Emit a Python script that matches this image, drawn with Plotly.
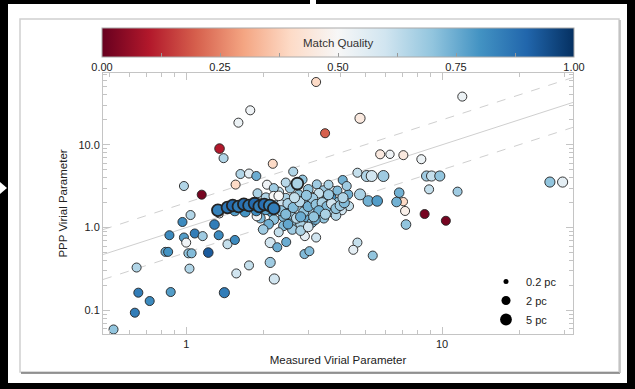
import plotly.graph_objects as go
import numpy as np

# ---------------- data ----------------
# measured virial parameter, PPP virial parameter, match quality, size (pc)
meas_alpha = [
    3.22, 1.78, 1.60, 3.49, 1.35, 1.40, 2.18, 2.62, 1.63, 1.76, 1.88, 0.98, 1.56, 1.15, 2.07,
    1.35, 1.70, 3.22, 3.10, 3.76, 1.04, 0.967, 1.29, 0.86, 0.98, 1.08, 1.16, 1.00, 1.34, 1.45,
    1.55, 0.83, 0.85, 1.02, 1.05, 1.22, 0.64, 0.65, 0.63, 0.72, 0.52, 0.87, 1.03, 1.41, 1.57,
    1.76, 2.13, 2.21, 2.13, 2.27, 2.46, 2.90, 3.03, 2.91, 3.22, 12.0, 4.78, 5.73, 6.26, 7.06,
    8.30, 26.4, 29.6, 8.70, 9.10, 9.80, 8.90, 11.5, 8.55, 10.35, 7.17, 7.23, 7.06, 6.80, 6.64,
    5.08, 5.31, 5.90, 4.67, 5.15, 5.58, 4.78, 4.30, 4.33, 4.09, 4.24, 4.06, 3.24, 3.45, 3.70,
    4.67, 4.50, 5.36,
    1.95, 2.05, 2.15, 2.25, 2.30, 2.40, 2.45, 2.50, 2.55, 2.60, 2.65, 2.70, 2.75, 2.80, 2.85,
    2.90, 2.95, 3.00, 3.05, 3.10, 3.15, 3.25, 3.30, 3.35, 3.45, 3.50, 3.60, 3.75, 3.85, 3.95,
    2.35, 2.55, 2.75, 2.95, 3.20, 2.20, 2.40, 2.60, 2.80, 3.00, 2.70, 2.50, 2.10, 1.95, 2.00,
    2.30, 1.90, 2.20, 2.45, 2.85, 3.60, 3.90, 1.89, 2.20, 2.30,
    2.35, 2.50, 2.62, 2.78, 2.88, 3.00, 3.12, 3.22, 3.40, 3.55, 3.70, 3.85, 4.00, 4.15, 3.30,
    2.65, 2.95, 3.60, 4.10, 2.45, 2.80, 3.15, 3.50, 2.20, 2.05,
    1.55, 1.70, 1.88,
    2.72, 1.33, 1.45, 1.52, 1.60, 1.68, 1.76, 1.85, 1.93, 2.02, 2.12, 2.20,
]
ppp_alpha = [
    57.3, 26.1, 18.5, 13.8, 9.0, 6.9, 5.9, 4.75, 4.44, 4.5, 4.2, 3.18, 3.31, 2.5, 3.3,
    1.45, 1.81, 1.82, 2.43, 2.77, 1.42, 1.17, 1.09, 0.81, 0.76, 0.85, 0.79, 0.66, 0.81, 0.63,
    0.71, 0.51, 0.51, 0.49, 0.49, 0.50, 0.33, 0.164, 0.094, 0.13, 0.059, 0.167, 0.32, 0.164, 0.28,
    0.35, 0.38, 0.24, 0.66, 0.58, 0.67, 0.48, 0.52, 0.79, 0.76, 38.2, 20.9, 7.68, 7.68, 7.5,
    6.7, 3.55, 3.55, 4.2, 4.2, 4.2, 2.9, 2.72, 1.46, 1.21, 1.59, 1.09, 2.06, 2.64, 2.04,
    4.2, 4.2, 4.2, 4.6, 2.1, 2.1, 2.52, 2.52, 1.82, 3.76, 3.18, 1.62, 3.33, 2.77, 2.3,
    0.66, 0.54, 0.46,
    1.95, 2.30, 1.55, 2.05, 2.70, 1.35, 2.25, 1.70, 3.00, 1.20, 2.00, 1.50, 2.50, 1.10, 1.80,
    2.20, 1.35, 2.90, 1.60, 1.15, 2.00, 1.45, 2.60, 1.75, 1.30, 2.10, 1.55, 1.85, 1.40, 2.05,
    1.90, 1.45, 1.65, 1.95, 1.25, 1.25, 1.05, 0.95, 0.92, 1.02, 1.30, 1.10, 1.10, 1.30, 0.95,
    0.88, 2.60, 3.00, 3.50, 3.80, 3.30, 2.80, 1.38, 2.40, 2.42,
    1.60, 1.95, 1.75, 2.05, 1.55, 1.80, 2.25, 1.90, 2.00, 1.80, 1.95, 1.70, 1.85, 2.00, 1.60,
    2.30, 2.45, 2.50, 2.30, 1.45, 1.35, 1.35, 1.45, 1.80, 1.65,
    1.60, 1.55, 1.60,
    3.40, 1.62, 1.75, 1.85, 1.80, 1.92, 1.85, 1.95, 1.80, 1.90, 1.85, 1.70,
]
match_quality = [
    0.40, 0.52, 0.53, 0.20, 0.10, 0.65, 0.40, 0.65, 0.65, 0.55, 0.75, 0.65, 0.40, 0.02, 0.52,
    0.48, 0.00, 0.00, 0.42, 0.55, 0.65, 0.82, 0.85, 0.82, 0.78, 0.85, 0.68, 0.52, 0.82, 0.62,
    0.82, 0.75, 0.80, 0.70, 0.72, 0.92, 0.65, 0.85, 0.85, 0.82, 0.70, 0.78, 0.65, 0.85, 0.60,
    0.62, 0.68, 0.60, 0.60, 0.75, 0.75, 0.72, 0.72, 0.55, 0.60, 0.53, 0.45, 0.45, 0.52, 0.45,
    0.53, 0.70, 0.55, 0.68, 0.62, 0.70, 0.62, 0.68, 0.02, 0.02, 0.47, 0.70, 0.40, 0.74, 0.74,
    0.65, 0.60, 0.68, 0.62, 0.74, 0.78, 0.66, 0.74, 0.62, 0.74, 0.68, 0.60, 0.68, 0.68, 0.80,
    0.62, 0.55, 0.70,
    0.72, 0.65, 0.78, 0.70, 0.62, 0.72, 0.66, 0.76, 0.68, 0.70, 0.63, 0.74, 0.70, 0.66, 0.68,
    0.60, 0.75, 0.70, 0.65, 0.72, 0.70, 0.78, 0.62, 0.68, 0.70, 0.74, 0.66, 0.72, 0.65, 0.70,
    0.60, 0.68, 0.58, 0.72, 0.74, 0.70, 0.72, 0.68, 0.66, 0.60, 0.64, 0.76, 0.74, 0.72, 0.68,
    0.62, 0.66, 0.68, 0.64, 0.70, 0.66, 0.72, 0.52, 0.50, 0.50,
    0.70, 0.66, 0.72, 0.64, 0.70, 0.74, 0.68, 0.70, 0.66, 0.72, 0.60, 0.70, 0.68, 0.72, 0.74,
    0.62, 0.70, 0.68, 0.65, 0.72, 0.75, 0.70, 0.66, 0.78, 0.76,
    0.78, 0.80, 0.82,
    0.66, 0.84, 0.87, 0.89, 0.85, 0.88, 0.86, 0.89, 0.85, 0.88, 0.83, 0.85,
]
size_pc = [
    2, 2, 2, 2, 2.5, 2, 2, 2, 2, 2, 2, 2, 2, 2, 2,
    1, 1, 2, 1, 2, 2, 2, 2.5, 2, 2, 2, 2, 2, 2, 2,
    2, 2, 2, 2, 2, 2.5, 2, 2, 2, 2, 2, 2, 2, 3, 2,
    2, 3, 3, 3, 2, 2, 2, 2, 2, 2, 2, 3, 2, 1.5, 2,
    2, 3, 3, 3, 3, 3, 2, 2, 2, 2, 2, 2.5, 1.5, 2.5, 2.5,
    4, 4, 4, 2, 3.5, 3.5, 4, 2, 2, 2, 2, 2, 2, 3.5, 2,
    2, 2, 2,
    2.5, 2.5, 2.5, 3, 2.5, 2.5, 3, 3, 2.5, 2.5, 3, 3, 2.5, 2.5, 3,
    2.5, 3, 2.5, 3, 2.5, 3, 2.5, 2.5, 3, 2.5, 2.5, 3, 2.5, 2.5, 2.5,
    2.5, 2.5, 2.5, 2.5, 2.5, 2.5, 2.5, 2.5, 2.5, 2.5, 3, 2.5, 2.5, 2.5, 2.5,
    2, 2, 2, 2, 2, 2, 2, 2.5, 2.5, 2.5,
    3, 3, 3, 3, 3, 3, 3, 3, 3, 3, 3, 3, 3, 3, 3,
    3, 3, 3, 3, 3, 3, 3, 3, 3, 3,
    3, 3, 3,
    5, 5, 5, 5, 5, 5, 5, 5, 5, 5, 5, 5,
]
legend_sizes_pc = [0.2, 2, 5]
legend_labels = ["0.2 pc", "2 pc", "5 pc"]
ratio_lines = [0.5, 1.0, 2.0]
x_range = [0.473, 32.5]
y_range = [0.052, 73.6]
x_tickvals, x_ticktext = [1, 10], ["1", "10"]
y_tickvals, y_ticktext = [0.1, 1, 10], ["0.1", "1.0", "10.0"]
cbar_tickvals = [0, 0.125, 0.25, 0.375, 0.5, 0.625, 0.75, 0.875, 1.0]
cbar_ticktext = ["0.00", "", "0.25", "", "0.50", "", "0.75", "", "1.00"]

RDBU = ['rgb(103,0,31)', 'rgb(178,24,43)', 'rgb(214,96,77)', 'rgb(244,165,130)',
        'rgb(253,219,199)', 'rgb(247,247,247)', 'rgb(209,229,240)', 'rgb(146,197,222)',
        'rgb(67,147,195)', 'rgb(33,102,172)', 'rgb(5,48,97)']

def diam(pc):
    return 1.5 + 6.0 * np.cbrt(np.asarray(pc, dtype=float))

W, H = 635, 389
ML, MR, MT, MB = 103, 62, 73, 55
PW, PH = W - ML - MR, H - MT - MB

def xp(px):
    return (px - ML) / PW

def yp(py):
    return (H - MB - py) / PH

FONT = "Liberation Sans, Arial, Helvetica, sans-serif"

fig = go.Figure()

# reference ratio lines
xl = np.array(x_range)
for r in ratio_lines:
    fig.add_trace(go.Scatter(
        x=xl, y=r * xl, mode="lines", showlegend=False, hoverinfo="skip",
        line=dict(color="#cfcfcf", width=1, dash="solid" if r == 1.0 else "dash")))

sz = np.asarray(size_pc, dtype=float)
fig.add_trace(go.Scatter(
    x=meas_alpha, y=ppp_alpha, mode="markers", showlegend=False,
    marker=dict(
        size=diam(sz), color=match_quality, colorscale=RDBU, cmin=0, cmax=1,
        line=dict(color="#222222", width=np.where(sz >= 5, 1.8, 0.9)),
        opacity=1,
        showscale=True,
        colorbar=dict(
            orientation="h", x=0.5, xanchor="center", y=yp(27.5), yanchor="top",
            len=472, lenmode="pixels", thickness=29, thicknessmode="pixels",
            outlinewidth=1, outlinecolor="#aaaaaa", xpad=0, ypad=0,
            tickmode="array", tickvals=cbar_tickvals, ticktext=cbar_ticktext,
            ticks="inside", ticklen=4, tickcolor="#999999",
            tickfont=dict(family=FONT, size=11, color="#222"),
        ),
    ),
))

# size legend
for s, lab in zip(legend_sizes_pc, legend_labels):
    fig.add_trace(go.Scatter(
        x=[None], y=[None], mode="markers", name=lab,
        marker=dict(size=float(diam(s)), color="black", line=dict(width=0))))

axis_common = dict(
    type="log", showgrid=False, zeroline=False, showline=True, linecolor="#c4c4c4",
    linewidth=1, mirror="ticks", ticks="inside", ticklen=7, tickcolor="#c4c4c4",
    tickfont=dict(family=FONT, size=11, color="#222"),
)
minor_x = [0.5, 0.6, 0.7, 0.8, 0.9, 2, 3, 4, 5, 6, 7, 8, 9, 20, 30]
minor_y = [0.06, 0.07, 0.08, 0.09, 0.2, 0.3, 0.4, 0.5, 0.6, 0.7, 0.8, 0.9,
           2, 3, 4, 5, 6, 7, 8, 9, 20, 30, 40, 50, 60, 70]

fig.update_xaxes(
    **axis_common, range=np.log10(x_range).tolist(),
    tickmode="array", tickvals=x_tickvals, ticktext=x_ticktext,
    minor=dict(tickmode="array", tickvals=minor_x, ticks="inside", ticklen=4, tickcolor="#c4c4c4"),
    title=dict(text="Measured Virial Parameter", standoff=6,
               font=dict(family=FONT, size=11.5, color="#222")),
)
fig.update_yaxes(
    **axis_common, range=np.log10(y_range).tolist(),
    tickmode="array", tickvals=y_tickvals, ticktext=y_ticktext,
    minor=dict(tickmode="array", tickvals=minor_y, ticks="inside", ticklen=4, tickcolor="#c4c4c4"),
    title=dict(text="PPP Virial Parameter", standoff=8,
               font=dict(family=FONT, size=11.5, color="#222")),
)

shapes = [
    dict(type="rect", xref="paper", yref="paper", x0=xp(8), x1=xp(627), y0=yp(383), y1=yp(4),
         fillcolor="white", line=dict(width=0), layer="below"),
    dict(type="rect", xref="paper", yref="paper", x0=xp(20), x1=xp(619), y0=yp(372), y1=yp(19),
         fillcolor="white", line=dict(color="#d0d0d0", width=1.5), layer="below"),
    dict(type="line", xref="paper", yref="paper", x0=xp(21), x1=xp(620), y0=yp(373), y1=yp(373),
         line=dict(color="#777777", width=1.5), layer="below"),
    dict(type="line", xref="paper", yref="paper", x0=xp(620), x1=xp(620), y0=yp(20), y1=yp(373),
         line=dict(color="#bbbbbb", width=1.5), layer="below"),
    dict(type="path", xref="paper", yref="paper",
         path=f"M {xp(0)},{yp(182)} L {xp(7)},{yp(188)} L {xp(0)},{yp(194)} Z",
         fillcolor="white", line=dict(width=0)),
    dict(type="rect", xref="paper", yref="paper", x0=xp(310), x1=xp(316), y0=yp(4), y1=yp(0),
         fillcolor="white", line=dict(width=0)),
]

fig.update_layout(
    width=W, height=H, margin=dict(l=ML, r=MR, t=MT, b=MB, pad=0),
    paper_bgcolor="black", plot_bgcolor="white",
    font=dict(family=FONT, size=11, color="#222"),
    shapes=shapes,
    showlegend=True,
    legend=dict(x=xp(486), y=yp(267), xanchor="left", yanchor="top",
                bgcolor="rgba(0,0,0,0)", itemsizing="trace", tracegroupgap=0,
                font=dict(family=FONT, size=11, color="#222"), itemwidth=30),
    annotations=[dict(text="Match Quality", xref="paper", yref="paper", x=0.5, y=yp(43.5),
                      xanchor="center", yanchor="middle",
                      showarrow=False, font=dict(family=FONT, size=11.5, color="#333"))],
)

fig.write_html("out.html", config={"displayModeBar": False},
               post_script="document.body.style.margin='0';document.body.style.overflow='hidden';")
